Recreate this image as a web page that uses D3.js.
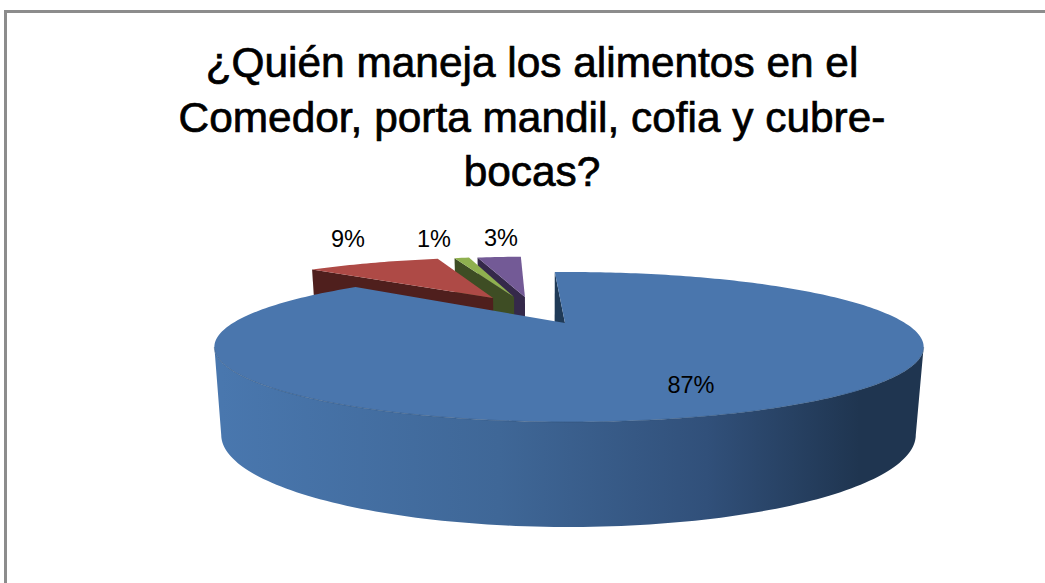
<!DOCTYPE html>
<html>
<head>
<meta charset="utf-8">
<script src="https://cdn.jsdelivr.net/npm/d3@7"></script>
<style>
  html, body { margin: 0; padding: 0; background: #fff; }
  svg { display: block; }
  text { font-family: "Liberation Sans", Arial, sans-serif; fill: #000; }
</style>
</head>
<body>
<svg id="chart" width="1045" height="583"></svg>
<script>
  // ── Data ──
  const categories = ['A', 'B', 'C', 'D'];
  const percents   = [87, 9, 1, 3];
  const titleLines = ['¿Quién maneja los alimentos en el', 'Comedor, porta mandil, cofia y cubre-', 'bocas?'];

  // ── Look ──
  const topColors  = ['#4a76ad', '#ae4a46', '#8fb04f', '#735a96'];
  const wallColors = ['#1f3a57', '#4f1f1d', '#3e4d24', '#35294a'];
  // slices are pulled out by hand in the original, so the offsets are not radial
  const explode    = [[0, 0], [-0.243, -0.421], [-0.173, -0.44], [-0.136, -0.44]];
  const labelPos   = [[691, 393], [348, 247], [434, 247], [501, 246]];

  // ── Perspective of the pie ──
  const persp = 0.32;
  const rotation = -3.2 * Math.PI / 180;
  const topPlane    = { cx: 569, cy: 323, rx: 336, ry: 67.3 };
  const bottomPlane = { cx: 568.5, cy: 405.5, rx: 329, ry: 82.6 };
  // the pulled-out slices and the big slice's apex sit a little left of the ellipse centre
  const pulledShift = -4;

  function project(plane, u, v) {
    const s = 1 / (1 - persp * v);
    return [plane.cx + plane.rx * u * s, plane.cy + plane.ry * v * s];
  }

  // angle measured clockwise from the back of the pie
  function rim(plane, angle, off) {
    return project(plane, Math.sin(angle) + off[0], -Math.cos(angle) + off[1]);
  }

  function arcPoints(plane, a0, a1, off) {
    const n = Math.max(2, Math.ceil(Math.abs(a1 - a0) / 0.02));
    return d3.range(n + 1).map(i => rim(plane, a0 + (a1 - a0) * i / n, off));
  }

  const svg = d3.select('#chart');
  const line = d3.line();

  // ── Frame ──
  svg.append('path')
    .attr('d', 'M5.5,583V11.5H1045')
    .attr('fill', 'none').attr('stroke', '#8c8c8c').attr('stroke-width', 3);

  // ── Title ──
  svg.append('g').selectAll('text')
    .data(titleLines)
    .join('text')
    .attr('x', 532)
    .attr('y', (d, i) => 77 + i * 54.5)
    .attr('text-anchor', 'middle')
    .attr('font-size', 42.4)
    .attr('stroke', '#000').attr('stroke-width', 0.7)
    .text(d => d);

  const slices = d3.pie().sort(null).startAngle(rotation).endAngle(2 * Math.PI + rotation)(percents);

  // ── Pulled-out slices, back to front ──
  const pulledTop = { ...topPlane, cx: topPlane.cx + pulledShift };
  const pulledBot = { ...bottomPlane, cx: bottomPlane.cx + pulledShift };
  [3, 2, 1].forEach(i => {
    const d = slices[i];
    const off = explode[i];
    const apexTop = project(pulledTop, off[0], off[1]);
    const apexBot = project(pulledBot, off[0], off[1]);
    svg.append('path')
      .attr('d', line([apexTop, rim(pulledTop, d.startAngle, off), rim(pulledBot, d.startAngle, off), apexBot]) + 'Z')
      .attr('fill', wallColors[i]);
    svg.append('path')
      .attr('d', line([apexTop, ...arcPoints(pulledTop, d.startAngle, d.endAngle, off)]) + 'Z')
      .attr('fill', topColors[i]);
  });

  // ── Big slice ──
  const big = slices[0];
  const none = explode[0];
  const bigApexTop = project(pulledTop, none[0], none[1]);
  const bigApexBot = project(pulledBot, none[0], none[1]);

  const wallGrad = svg.append('defs').append('linearGradient')
    .attr('id', 'wallGrad')
    .attr('gradientUnits', 'userSpaceOnUse')
    .attr('x1', 221).attr('x2', 915).attr('y1', 0).attr('y2', 0);
  [[0, '#4977ae'], [0.4, '#3f6797'], [0.7, '#31507a'], [0.92, '#1f3550'], [1, '#1f3550']].forEach(s => {
    wallGrad.append('stop').attr('offset', s[0]).attr('stop-color', s[1]);
  });

  // inner cut face, only a sliver of it shows
  svg.append('path')
    .attr('d', line([bigApexTop, rim(topPlane, big.startAngle, none), rim(bottomPlane, big.startAngle, none), bigApexBot]) + 'Z')
    .attr('fill', wallColors[0]);

  // outer wall between the two silhouette points
  const sil = Math.acos(-persp);
  svg.append('path')
    .attr('d', line([...arcPoints(topPlane, sil, 2 * Math.PI - sil, none), ...arcPoints(bottomPlane, 2 * Math.PI - sil, sil, none)]) + 'Z')
    .attr('fill', 'url(#wallGrad)');

  const bigTop = arcPoints(topPlane, big.startAngle, big.endAngle, none);
  svg.append('path')
    .attr('d', line([bigApexTop, ...bigTop]) + 'Z')
    .attr('fill', topColors[0]);
  // soft dark rim where the top meets the wall
  svg.append('path')
    .attr('d', line(arcPoints(topPlane, sil, 2 * Math.PI - sil, none)))
    .attr('fill', 'none').attr('stroke', '#2f4d72').attr('stroke-opacity', 0.45).attr('stroke-width', 1);

  // ── Data labels ──
  svg.append('g').selectAll('text')
    .data(percents)
    .join('text')
    .attr('x', (d, i) => labelPos[i][0])
    .attr('y', (d, i) => labelPos[i][1])
    .attr('text-anchor', 'middle')
    .attr('font-size', 23.5)
    .text(d => d + '%');
</script>
</body>
</html>
